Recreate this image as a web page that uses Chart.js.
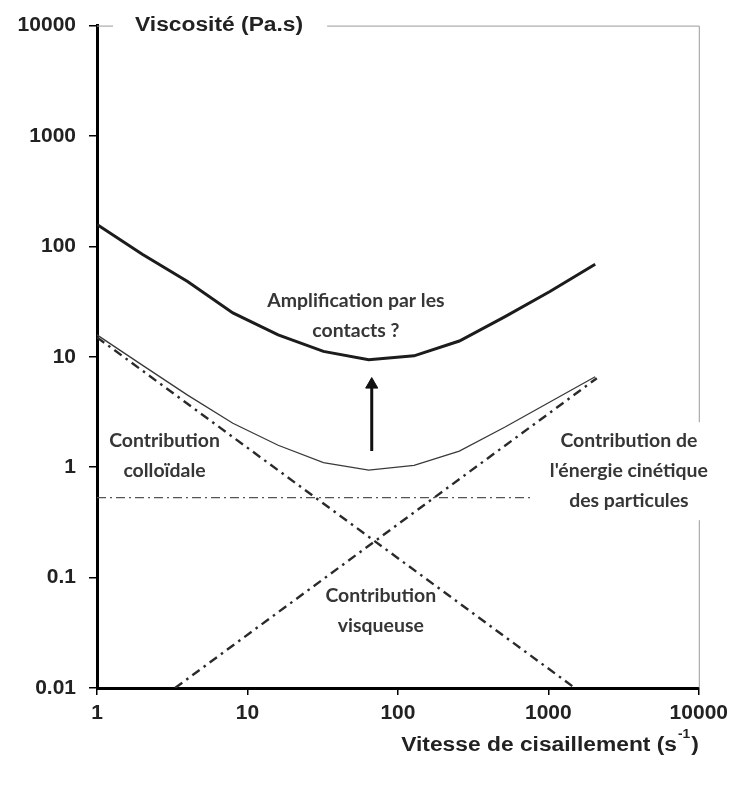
<!DOCTYPE html>
<html>
<head>
<meta charset="utf-8">
<script src="https://cdn.jsdelivr.net/npm/chart.js"></script>
<style>
  body { margin: 0; background: #fff; }
  #wrap { width: 734px; height: 787px; }
</style>
</head>
<body>
<div id="wrap"><canvas id="myChart" width="734" height="787"></canvas></div>
<script>
// values (log-log)
const shearRate = [1, 2, 4, 8, 16, 32, 64, 128, 256, 512, 1024, 2048];
const viscAmplified = [158, 85, 48, 25, 15.8, 11.2, 9.4, 10.2, 13.9, 23, 39, 69];
const viscTotal = [15.8, 8.4, 4.5, 2.5, 1.58, 1.1, 0.94, 1.04, 1.4, 2.3, 3.9, 6.6];

const colloidalRate = [1, 1500];
const colloidalVisc = [15, 0.01];
const kineticRate = [3.3, 2100];
const kineticVisc = [0.01, 6.4];
const viscousRate = [1, 790];
const viscousVisc = [0.53, 0.53];
const arrowRate = [67, 67];
const arrowVisc = [1.4, 5.6];

const xTicks = [1, 10, 100, 1000, 10000];
const yTicks = [0.01, 0.1, 1, 10, 100, 1000, 10000];

const pts = (xs, ys) => xs.map((v, i) => ({x: v, y: ys[i]}));

// text notes, anchored in data units (centre of first line)
const notes = [
  {lines: ['Amplification par les', 'contacts ?'], x: 52.6, y: 31.8, box: false},
  {lines: ['Contribution', 'colloïdale'], x: 2.81, y: 1.72, box: false},
  {lines: ['Contribution de', "l'énergie cinétique", 'des particules'], x: 3430, y: 1.72, box: true},
  {lines: ['Contribution', 'visqueuse'], x: 77, y: 0.068, box: false}
];

const SX = 1.14;      // the figure text is a bit wide
const SX_NOTE = 1.08;

function wideText(ctx, str, x, y, align, sx) {
  ctx.save();
  ctx.translate(x, y);
  ctx.scale(sx || SX, 1);
  ctx.textAlign = align;
  ctx.textBaseline = 'middle';
  ctx.fillText(str, 0, 0);
  ctx.restore();
}

const decor = {
  id: 'decor',
  afterDraw(chart) {
    const {ctx, chartArea: a, scales: {x, y}} = chart;
    ctx.save();
    // thin grey frame top and right
    ctx.strokeStyle = '#9a9a9a';
    ctx.lineWidth = 1;
    ctx.beginPath();
    ctx.moveTo(a.left, a.top + 0.5);
    ctx.lineTo(a.right + 0.5, a.top + 0.5);
    ctx.lineTo(a.right + 0.5, a.bottom);
    ctx.stroke();

    // y title on the top edge
    ctx.font = 'bold 20px "Liberation Sans", Arial, sans-serif';
    const yt = 'Viscosité (Pa.s)';
    const ytw = ctx.measureText(yt).width * SX;
    const tx = a.left + 38;
    ctx.fillStyle = '#fff';
    ctx.fillRect(tx - 22, a.top - 11, ytw + 46, 22);
    ctx.fillStyle = '#222';
    wideText(ctx, yt, tx, a.top, 'left');

    // x title
    const big = 'bold 20px "Liberation Sans", Arial, sans-serif';
    const small = 'bold 12px "Liberation Sans", Arial, sans-serif';
    ctx.font = big;
    const t1 = 'Vitesse de cisaillement (s', t3 = ')';
    const w1 = ctx.measureText(t1).width * SX;
    const w3 = ctx.measureText(t3).width * SX;
    ctx.font = small;
    const w2 = ctx.measureText('-1').width * SX;
    const ty = 745;
    let sx0 = a.right - (w1 + w2 + w3 + 2);
    ctx.font = big;
    wideText(ctx, t1, sx0, ty, 'left');
    ctx.font = small;
    wideText(ctx, '-1', sx0 + w1 + 1, ty - 10, 'left');
    ctx.font = big;
    wideText(ctx, t3, sx0 + w1 + w2 + 2, ty, 'left');

    // notes
    ctx.font = 'bold 18px Lato, "Open Sans", sans-serif';
    const lh = 30;
    notes.forEach(n => {
      const cx = x.getPixelForValue(n.x);
      const cy = y.getPixelForValue(n.y);
      if (n.box) {
        const mw = Math.max(...n.lines.map(s => ctx.measureText(s).width)) * SX_NOTE;
        ctx.fillStyle = '#fff';
        ctx.fillRect(cx - mw / 2 - 8, cy - 19, mw + 16, lh * n.lines.length + 8);
      }
      ctx.fillStyle = '#363636';
      n.lines.forEach((s, i) => wideText(ctx, s, cx, cy + i * lh, 'center', SX_NOTE));
    });
    ctx.restore();
  }
};

const ctx = document.getElementById('myChart').getContext('2d');

const myChart = new Chart(ctx, {
  type: 'line',
  data: {
    datasets: [
      {
        label: 'Amplification par les contacts',
        data: pts(shearRate, viscAmplified),
        borderColor: '#1c1c1c',
        borderWidth: 3,
        pointRadius: 0
      },
      {
        label: 'Viscosité totale',
        data: pts(shearRate, viscTotal),
        borderColor: '#3a3a3a',
        borderWidth: 1.3,
        pointRadius: 0
      },
      {
        label: 'Contribution colloïdale',
        data: pts(colloidalRate, colloidalVisc),
        borderColor: '#2a2a2a',
        borderWidth: 2.4,
        borderDash: [9, 5, 2.5, 5],
        pointRadius: 0
      },
      {
        label: "Contribution de l'énergie cinétique",
        data: pts(kineticRate, kineticVisc),
        borderColor: '#2a2a2a',
        borderWidth: 2.4,
        borderDash: [9, 5, 2.5, 5],
        pointRadius: 0
      },
      {
        label: 'Contribution visqueuse',
        data: pts(viscousRate, viscousVisc),
        borderColor: '#555',
        borderWidth: 1.2,
        borderDash: [9, 4, 2, 4],
        pointRadius: 0
      },
      {
        label: 'arrow',
        data: pts(arrowRate, arrowVisc),
        borderColor: '#111',
        borderWidth: 3,
        pointStyle: 'triangle',
        pointRadius: [0, 7],
        pointBackgroundColor: '#111',
        pointBorderColor: '#111',
        pointBorderWidth: 1
      }
    ]
  },
  options: {
    responsive: false,
    animation: false,
    layout: { padding: { top: 20, right: 34, left: 0, bottom: 0 } },
    plugins: { legend: { display: false }, tooltip: { enabled: false } },
    scales: {
      x: {
        type: 'logarithmic',
        min: 1,
        max: 10000,
        afterBuildTicks: s => { s.ticks = xTicks.map(v => ({value: v})); },
        afterFit: s => { s.height = 99; },
        grid: { drawOnChartArea: false, tickLength: 7, color: '#000', lineWidth: 1.5 },
        border: { color: '#000', width: 3 },
        ticks: {
          autoSkip: false,
          maxRotation: 0,
          padding: 6,
          color: '#222',
          font: { family: '"Liberation Sans", Arial, sans-serif', size: 21, weight: 'bold' },
          callback: v => String(v)
        }
      },
      y: {
        type: 'logarithmic',
        min: 0.01,
        max: 10000,
        afterBuildTicks: s => { s.ticks = yTicks.map(v => ({value: v})); },
        afterFit: s => { s.width = 97; },
        grid: { drawOnChartArea: false, tickLength: 8, color: '#000', lineWidth: 1.5 },
        border: { color: '#000', width: 3 },
        ticks: {
          autoSkip: false,
          padding: 13,
          color: '#222',
          font: { family: '"Liberation Sans", Arial, sans-serif', size: 21, weight: 'bold' },
          callback: v => String(v)
        }
      }
    }
  },
  plugins: [decor]
});
</script>
</body>
</html>
